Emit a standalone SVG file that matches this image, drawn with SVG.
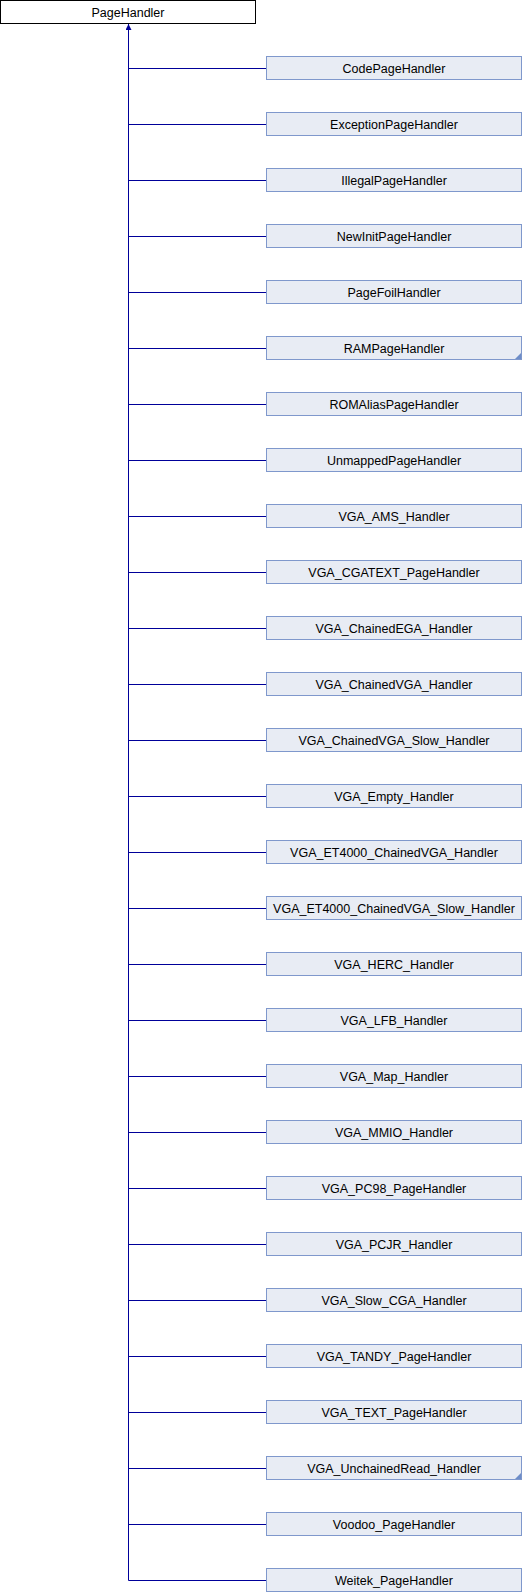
<svg xmlns="http://www.w3.org/2000/svg" width="522" height="1592" viewBox="0 0 522 1592">
<style>
.bg{fill:#ffffff}
.base{fill:#ffffff;stroke:#000000;stroke-width:1}
.node{fill:#E8ECF4;stroke:#7F98CC;stroke-width:1}
.t{font-family:"Liberation Sans",Arial,sans-serif;font-size:12.5px;fill:#000000;text-anchor:middle}
.edge{fill:none;stroke:#000099;stroke-width:1}
.corner{fill:#6E8DC8}
</style>
<defs>
<marker id="arr" markerWidth="6" markerHeight="6" refX="6" refY="3" orient="auto" markerUnits="userSpaceOnUse" viewBox="0 0 6 6">
<path d="M0,0 L6,3 L0,6 Z" fill="#000099"/>
</marker>
</defs>
<rect class="bg" x="0" y="0" width="522" height="1592"/>
<g id="connectors">
<path class="edge" d="M128.5,1580.5 L128.5,24" marker-end="url(#arr)"/>
<path class="edge" d="M128.5,68.5 H266.5 M128.5,124.5 H266.5 M128.5,180.5 H266.5 M128.5,236.5 H266.5 M128.5,292.5 H266.5 M128.5,348.5 H266.5 M128.5,404.5 H266.5 M128.5,460.5 H266.5 M128.5,516.5 H266.5 M128.5,572.5 H266.5 M128.5,628.5 H266.5 M128.5,684.5 H266.5 M128.5,740.5 H266.5 M128.5,796.5 H266.5 M128.5,852.5 H266.5 M128.5,908.5 H266.5 M128.5,964.5 H266.5 M128.5,1020.5 H266.5 M128.5,1076.5 H266.5 M128.5,1132.5 H266.5 M128.5,1188.5 H266.5 M128.5,1244.5 H266.5 M128.5,1300.5 H266.5 M128.5,1356.5 H266.5 M128.5,1412.5 H266.5 M128.5,1468.5 H266.5 M128.5,1524.5 H266.5 M128.5,1580.5 H266.5"/>
</g>
<g id="PageHandler"><rect class="base" x="0.5" y="0.5" width="255" height="23"/><text class="t" x="128" y="16.5">PageHandler</text></g>
<g id="CodePageHandler"><rect class="node" x="266.5" y="56.5" width="255" height="23"/><text class="t" x="394" y="72.5">CodePageHandler</text></g>
<g id="ExceptionPageHandler"><rect class="node" x="266.5" y="112.5" width="255" height="23"/><text class="t" x="394" y="128.5">ExceptionPageHandler</text></g>
<g id="IllegalPageHandler"><rect class="node" x="266.5" y="168.5" width="255" height="23"/><text class="t" x="394" y="184.5">IllegalPageHandler</text></g>
<g id="NewInitPageHandler"><rect class="node" x="266.5" y="224.5" width="255" height="23"/><text class="t" x="394" y="240.5">NewInitPageHandler</text></g>
<g id="PageFoilHandler"><rect class="node" x="266.5" y="280.5" width="255" height="23"/><text class="t" x="394" y="296.5">PageFoilHandler</text></g>
<g id="RAMPageHandler"><rect class="node" x="266.5" y="336.5" width="255" height="23"/><path class="corner" d="M521,353 L521,359 L515,359 Z"/><text class="t" x="394" y="352.5">RAMPageHandler</text></g>
<g id="ROMAliasPageHandler"><rect class="node" x="266.5" y="392.5" width="255" height="23"/><text class="t" x="394" y="408.5">ROMAliasPageHandler</text></g>
<g id="UnmappedPageHandler"><rect class="node" x="266.5" y="448.5" width="255" height="23"/><text class="t" x="394" y="464.5">UnmappedPageHandler</text></g>
<g id="VGA_AMS_Handler"><rect class="node" x="266.5" y="504.5" width="255" height="23"/><text class="t" x="394" y="520.5">VGA_AMS_Handler</text></g>
<g id="VGA_CGATEXT_PageHandler"><rect class="node" x="266.5" y="560.5" width="255" height="23"/><text class="t" x="394" y="576.5">VGA_CGATEXT_PageHandler</text></g>
<g id="VGA_ChainedEGA_Handler"><rect class="node" x="266.5" y="616.5" width="255" height="23"/><text class="t" x="394" y="632.5">VGA_ChainedEGA_Handler</text></g>
<g id="VGA_ChainedVGA_Handler"><rect class="node" x="266.5" y="672.5" width="255" height="23"/><text class="t" x="394" y="688.5">VGA_ChainedVGA_Handler</text></g>
<g id="VGA_ChainedVGA_Slow_Handler"><rect class="node" x="266.5" y="728.5" width="255" height="23"/><text class="t" x="394" y="744.5">VGA_ChainedVGA_Slow_Handler</text></g>
<g id="VGA_Empty_Handler"><rect class="node" x="266.5" y="784.5" width="255" height="23"/><text class="t" x="394" y="800.5">VGA_Empty_Handler</text></g>
<g id="VGA_ET4000_ChainedVGA_Handler"><rect class="node" x="266.5" y="840.5" width="255" height="23"/><text class="t" x="394" y="856.5">VGA_ET4000_ChainedVGA_Handler</text></g>
<g id="VGA_ET4000_ChainedVGA_Slow_Handler"><rect class="node" x="266.5" y="896.5" width="255" height="23"/><text class="t" x="394" y="912.5">VGA_ET4000_ChainedVGA_Slow_Handler</text></g>
<g id="VGA_HERC_Handler"><rect class="node" x="266.5" y="952.5" width="255" height="23"/><text class="t" x="394" y="968.5">VGA_HERC_Handler</text></g>
<g id="VGA_LFB_Handler"><rect class="node" x="266.5" y="1008.5" width="255" height="23"/><text class="t" x="394" y="1024.5">VGA_LFB_Handler</text></g>
<g id="VGA_Map_Handler"><rect class="node" x="266.5" y="1064.5" width="255" height="23"/><text class="t" x="394" y="1080.5">VGA_Map_Handler</text></g>
<g id="VGA_MMIO_Handler"><rect class="node" x="266.5" y="1120.5" width="255" height="23"/><text class="t" x="394" y="1136.5">VGA_MMIO_Handler</text></g>
<g id="VGA_PC98_PageHandler"><rect class="node" x="266.5" y="1176.5" width="255" height="23"/><text class="t" x="394" y="1192.5">VGA_PC98_PageHandler</text></g>
<g id="VGA_PCJR_Handler"><rect class="node" x="266.5" y="1232.5" width="255" height="23"/><text class="t" x="394" y="1248.5">VGA_PCJR_Handler</text></g>
<g id="VGA_Slow_CGA_Handler"><rect class="node" x="266.5" y="1288.5" width="255" height="23"/><text class="t" x="394" y="1304.5">VGA_Slow_CGA_Handler</text></g>
<g id="VGA_TANDY_PageHandler"><rect class="node" x="266.5" y="1344.5" width="255" height="23"/><text class="t" x="394" y="1360.5">VGA_TANDY_PageHandler</text></g>
<g id="VGA_TEXT_PageHandler"><rect class="node" x="266.5" y="1400.5" width="255" height="23"/><text class="t" x="394" y="1416.5">VGA_TEXT_PageHandler</text></g>
<g id="VGA_UnchainedRead_Handler"><rect class="node" x="266.5" y="1456.5" width="255" height="23"/><path class="corner" d="M521,1473 L521,1479 L515,1479 Z"/><text class="t" x="394" y="1472.5">VGA_UnchainedRead_Handler</text></g>
<g id="Voodoo_PageHandler"><rect class="node" x="266.5" y="1512.5" width="255" height="23"/><text class="t" x="394" y="1528.5">Voodoo_PageHandler</text></g>
<g id="Weitek_PageHandler"><rect class="node" x="266.5" y="1568.5" width="255" height="23"/><text class="t" x="394" y="1584.5">Weitek_PageHandler</text></g>
</svg>
